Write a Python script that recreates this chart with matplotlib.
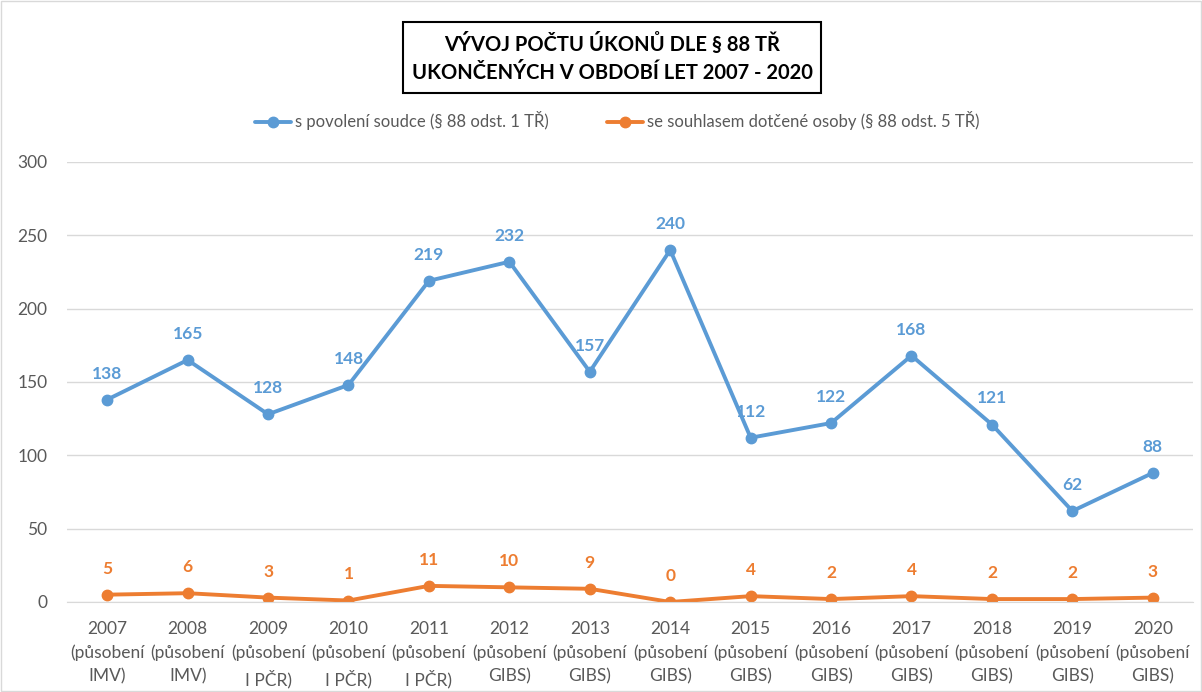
import matplotlib
matplotlib.use("Agg")
import matplotlib.pyplot as plt
from matplotlib.patches import Rectangle

years = ["2007", "2008", "2009", "2010", "2011", "2012", "2013", "2014",
         "2015", "2016", "2017", "2018", "2019", "2020"]
agency = ["IMV", "IMV", "I PČR", "I PČR", "I PČR", "GIBS", "GIBS", "GIBS",
          "GIBS", "GIBS", "GIBS", "GIBS", "GIBS", "GIBS"]
judge = [138, 165, 128, 148, 219, 232, 157, 240, 112, 122, 168, 121, 62, 88]
consent = [5, 6, 3, 1, 11, 10, 9, 0, 4, 2, 4, 2, 2, 3]
series_names = ["s povolení soudce (§ 88 odst. 1 TŘ)",
                "se souhlasem dotčené osoby (§ 88 odst. 5 TŘ)"]
title = "VÝVOJ POČTU ÚKONŮ DLE § 88 TŘ\nUKONČENÝCH V OBDOBÍ LET 2007 - 2020"

blue = "#5B9BD5"
orange = "#ED7D31"
grey = "#595959"

plt.rcParams['font.family'] = ['Lato', 'DejaVu Sans']

fig = plt.figure(figsize=(12.02, 6.92), dpi=100)
ax = fig.add_axes([67/1202, 1-602/692, (1193-67)/1202, (602-162)/692])

x = list(range(len(years)))
ax.plot(x, judge, color=blue, lw=2.8, marker='o', ms=7.5, label=series_names[0], solid_capstyle='round')
ax.plot(x, consent, color=orange, lw=2.8, marker='o', ms=7.5, label=series_names[1], solid_capstyle='round')

for xi, v in zip(x, judge):
    ax.annotate(str(v), (xi, v), xytext=(0, 13), textcoords='offset points',
                ha='center', va='bottom', color=blue, fontsize=12.5, fontweight='bold')
for xi, v in zip(x, consent):
    ax.annotate(str(v), (xi, v), xytext=(0, 13), textcoords='offset points',
                ha='center', va='bottom', color=orange, fontsize=12.5, fontweight='bold')

ax.set_xlim(-0.5, len(years) - 0.5)
ax.set_ylim(0, 300)
ax.set_yticks(range(0, 301, 50))
ax.set_xticks(x)
ax.set_xticklabels([f"{y}\n(působení\n{a})" for y, a in zip(years, agency)],
                   fontsize=12.5, color=grey, linespacing=1.55)
ax.tick_params(axis='y', labelsize=12.5, colors=grey, length=0, pad=14)
ax.tick_params(axis='x', length=0, pad=14)
ax.grid(axis='y', color='#D9D9D9', lw=1)
ax.set_axisbelow(True)
for s in ['top', 'right', 'left']:
    ax.spines[s].set_visible(False)
ax.spines['bottom'].set_color('#D9D9D9')

fig.text(612/1202, 1-58/692, title, ha='center', va='center', fontsize=14.5,
         fontweight='bold', color='black', linespacing=1.45)
fig.patches.append(Rectangle((403/1202, 1-93/692), (821-403)/1202, (93-22)/692,
                             transform=fig.transFigure, fill=False, ec='black', lw=1.5))
fig.patches.append(Rectangle((1/1202, 1/692), 1200/1202, 690/692,
                             transform=fig.transFigure, fill=False, ec='#D9D9D9', lw=1))

leg = fig.legend(loc='center', bbox_to_anchor=(617/1202, 1-121/692), ncol=2,
                 frameon=False, fontsize=12, handlelength=2.2, columnspacing=3.5,
                 handletextpad=0.2, labelcolor=grey)

fig.savefig("out.png", dpi=100)
